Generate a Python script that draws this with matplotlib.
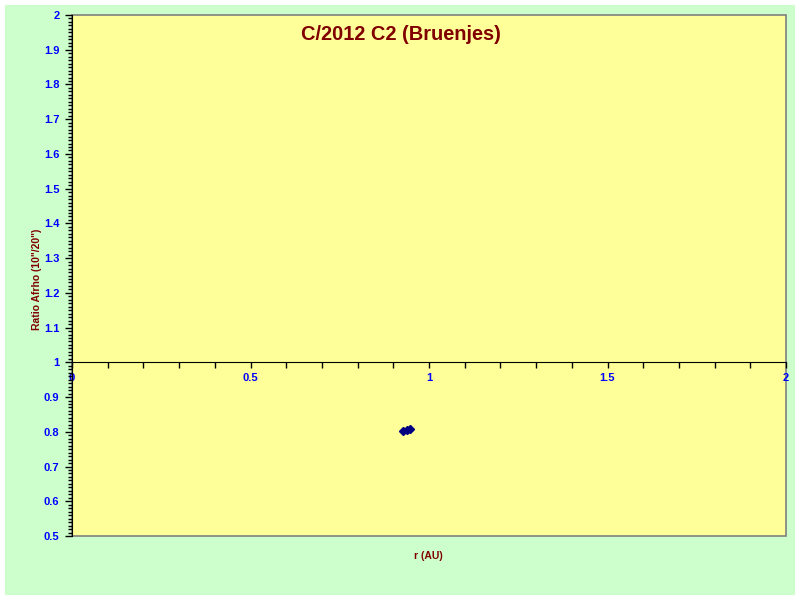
import matplotlib
matplotlib.use("Agg")
import matplotlib.pyplot as plt
from matplotlib.patches import Rectangle
from matplotlib.ticker import MultipleLocator

# Datos
r_au = [0.928, 0.937, 0.946]
ratio_afrho = [0.802, 0.805, 0.809]

title = "C/2012 C2 (Bruenjes)"
xlabel = "r (AU)"
ylabel = 'Ratio Afrho (10"/20")'

dark_red = "#800000"
blue = "#0000FF"

plt.rcParams["font.family"] = ["Liberation Sans", "DejaVu Sans"]

fig = plt.figure(figsize=(8, 6), dpi=100)
fig.patch.set_facecolor("white")
fig.patches.append(Rectangle((5 / 800, 5 / 600), 790 / 800, 590 / 600,
                             transform=fig.transFigure, facecolor="#CCFFCC",
                             edgecolor="none", zorder=-10))

ax = fig.add_axes([72 / 800, 64 / 600, 714 / 800, 521 / 600])
ax.set_facecolor("#FFFF99")

ax.plot(r_au, ratio_afrho, linestyle="none", marker="D", markersize=4.5,
        color="#000080", markeredgecolor="#000080")

ax.set_xlim(0, 2)
ax.set_ylim(0.5, 2)

# Eje x cruzando en y=1
ax.spines["bottom"].set_position(("data", 1))
ax.spines["bottom"].set_color("black")
ax.spines["left"].set_color("black")
ax.spines["top"].set_visible(False)
ax.spines["right"].set_visible(False)
ax.add_patch(Rectangle((0, 0), 1, 1, transform=ax.transAxes, fill=False,
                       edgecolor="#808080", linewidth=1.2, zorder=0.5,
                       clip_on=False))

ax.xaxis.set_major_locator(MultipleLocator(0.5))
ax.xaxis.set_minor_locator(MultipleLocator(0.1))
ax.yaxis.set_major_locator(MultipleLocator(0.1))
ax.yaxis.set_minor_locator(MultipleLocator(0.01))

ax.xaxis.set_major_formatter(lambda v, p: f"{v:g}")
ax.yaxis.set_major_formatter(lambda v, p: f"{v:g}")

ax.tick_params(axis="x", which="major", direction="out", length=4, width=1,
               pad=4, labelsize=8, labelcolor=blue)
ax.tick_params(axis="x", which="minor", direction="out", length=4, width=1)
ax.tick_params(axis="y", which="major", direction="out", length=5, width=1,
               pad=4, labelsize=8, labelcolor=blue)
ax.tick_params(axis="y", which="minor", direction="out", length=3, width=1)
for lbl in ax.get_xticklabels() + ax.get_yticklabels():
    lbl.set_fontweight("bold")

fig.text(401 / 800, 1 - 35 / 600, title, ha="center", va="center",
         fontsize=14.4, fontweight="bold", color=dark_red)
fig.text(428 / 800, 1 - 556 / 600, xlabel, ha="center", va="center",
         fontsize=7.5, fontweight="bold", color=dark_red)
fig.text(37 / 800, 1 - 279 / 600, ylabel, ha="center", va="center",
         rotation=90, fontsize=7.5, fontweight="bold", color=dark_red)

fig.savefig("out.png", dpi=100)
